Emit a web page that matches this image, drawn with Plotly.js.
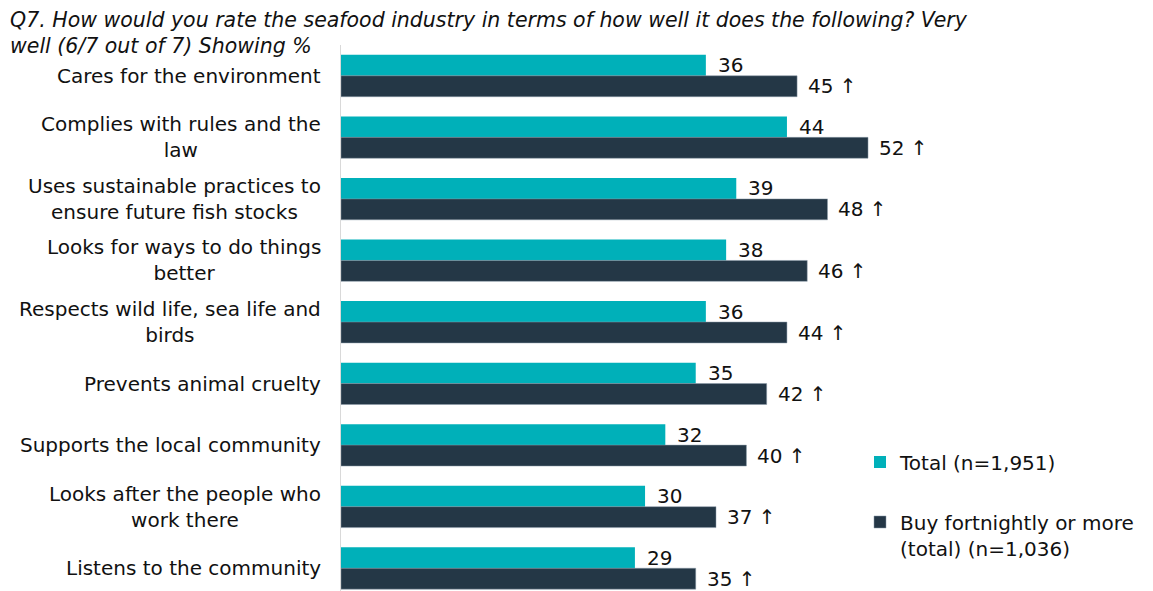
<!DOCTYPE html>
<html>
<head>
<meta charset="utf-8">
<script src="https://cdn.plot.ly/plotly-3.0.1.min.js"></script>
<style>html,body{margin:0;padding:0;background:#fff;}#chart{width:1153px;height:591px;}</style>
</head>
<body>
<div id="chart"></div>
<script>
const categories = [
  "Cares for the environment",
  "Complies with rules and the<br>law",
  "Uses sustainable practices to<br>ensure future fish stocks",
  "Looks for ways to do things<br>better",
  "Respects wild life, sea life and<br>birds",
  "Prevents animal cruelty",
  "Supports the local community",
  "Looks after the people who<br>work there",
  "Listens to the community"
];
const totalValues = [36, 44, 39, 38, 36, 35, 32, 30, 29];
const fortnightlyValues = [45, 52, 48, 46, 44, 42, 40, 37, 35];
const fortnightlyMarks = ["↑", "↑", "↑", "↑", "↑", "↑", "↑", "↑", "↑"];
const seriesNames = ["Total (n=1,951)", "Buy fortnightly or more<br>(total) (n=1,036)"];
const colors = ["#00B0B9", "#243746"];

const FONT = "DejaVu Sans, Verdana, sans-serif";
const FS = 20;

const traces = [
  {type: "bar", orientation: "h", name: seriesNames[0], x: totalValues, y: categories,
   marker: {color: colors[0]}, legendgroup: "a", hoverinfo: "x"},
  {type: "bar", orientation: "h", name: seriesNames[1], x: fortnightlyValues, y: categories,
   marker: {color: colors[1], line: {color: "#8a9aa8", width: 0.5}}, legendgroup: "b", hoverinfo: "x"}
];

const annotations = [];
categories.forEach((c, i) => {
  annotations.push({x: 0, y: c, xref: "paper", yref: "y", text: c, align: "center",
    showarrow: false, xanchor: "right", yanchor: "middle", xshift: -18,
    font: {family: FONT, size: FS, color: "#111"}});
  annotations.push({x: totalValues[i], y: c, xref: "x", yref: "y", text: String(totalValues[i]),
    showarrow: false, xanchor: "left", yanchor: "middle", xshift: 10, yshift: 10.5,
    font: {family: FONT, size: FS, color: "#111"}});
  annotations.push({x: fortnightlyValues[i], y: c, xref: "x", yref: "y",
    text: fortnightlyValues[i] + " " + fortnightlyMarks[i],
    showarrow: false, xanchor: "left", yanchor: "middle", xshift: 9, yshift: -10.5,
    font: {family: FONT, size: FS, color: "#111"}});
});

const layout = {
  width: 1153, height: 591,
  paper_bgcolor: "#fff", plot_bgcolor: "#fff",
  margin: {l: 341, r: 212, t: 45, b: 0},
  font: {family: FONT, size: FS, color: "#111"},
  title: {text: "<i>Q7. How would you rate the seafood industry in terms of how well it does the following? Very<br>well (6/7 out of 7) Showing %</i>",
    x: 0, xref: "container", xanchor: "left", y: 0.955, yref: "container", yanchor: "top",
    pad: {l: 10, t: 0}, font: {family: FONT, size: 20.5, color: "#111"}},
  barmode: "group", bargap: 0.32, bargroupgap: 0,
  xaxis: {range: [0, 59.2], showgrid: false, zeroline: false, showticklabels: false, showline: false, fixedrange: true},
  yaxis: {type: "category", range: [8.37, -0.5], showgrid: false, zeroline: false, showline: true,
    linecolor: "#d9d9d9", linewidth: 1, ticks: "", showticklabels: false, fixedrange: true},
  showlegend: true,
  legend: {x: 0.865, xanchor: "left", y: 0.272, yanchor: "top", traceorder: "grouped", valign: "top",
    tracegroupgap: 31, font: {family: FONT, size: FS, color: "#111"}, bgcolor: "rgba(0,0,0,0)"},
  annotations: annotations
};

Plotly.newPlot("chart", traces, layout, {displayModeBar: false, staticPlot: true});
</script>
</body>
</html>
